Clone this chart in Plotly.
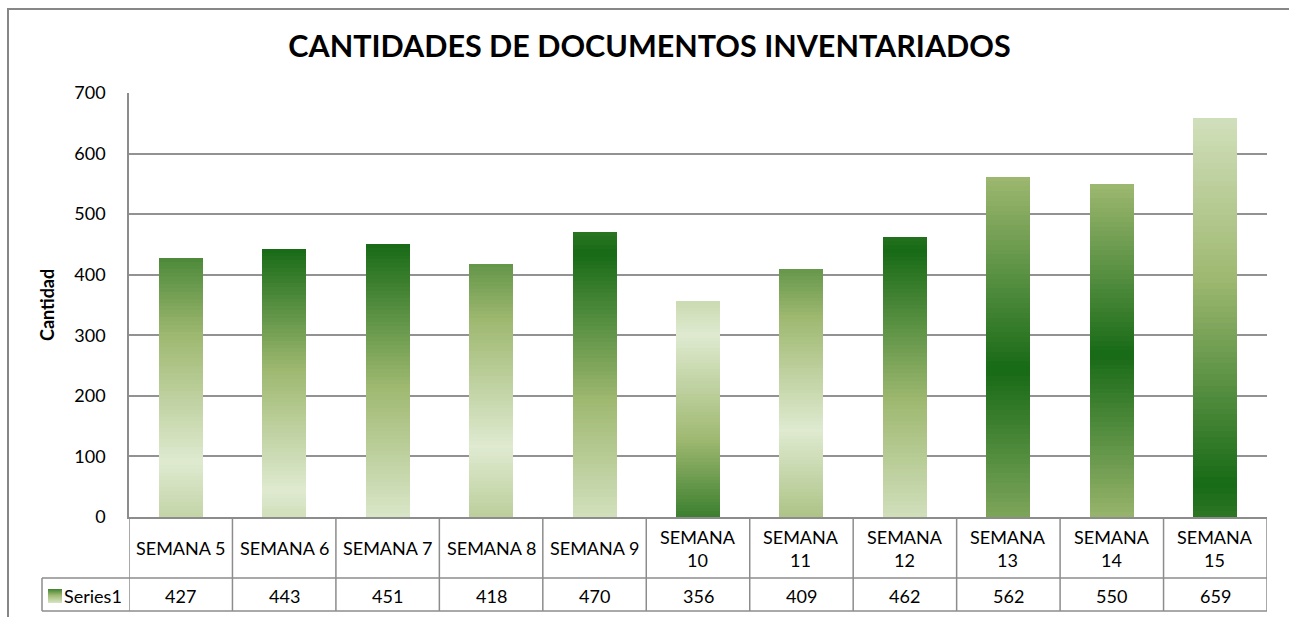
import plotly.graph_objects as go

# ---------------- data ----------------
categories = ["SEMANA 5", "SEMANA 6", "SEMANA 7", "SEMANA 8", "SEMANA 9", "SEMANA 10",
              "SEMANA 11", "SEMANA 12", "SEMANA 13", "SEMANA 14", "SEMANA 15"]
values = [427, 443, 451, 418, 470, 356, 409, 462, 562, 550, 659]
series_name = "Series1"
title_text = "CANTIDADES DE DOCUMENTOS INVENTARIADOS"
y_title = "Cantidad"
y_ticks = [0, 100, 200, 300, 400, 500, 600, 700]

# ---------------- style ----------------
FONT = "Lato"
TXT = 18
DARK = (23, 106, 22)
MID = (158, 184, 112)
LIGHT = (223, 234, 208)
# gradient phase (bottom, top) for each bar: 0=dark, 1=mid, 2=light (triangular wave)
GRAD_PHASES = [(2.43, 0.4), (2.22, 0.0), (1.92, 0.0), (2.55, 0.56), (1.8, -0.14),
               (0.27, 2.32), (2.77, 0.58), (1.78, -0.09), (-0.76, 1.0), (-0.95, 1.0),
               (-0.16, 1.79)]
NSEG = 70
LINE = "#8c8c8c"

W, H = 1289, 617
PL, PR, PT, PB = 129, 1267, 93, 517


def px_x(px):
    return (px - PL) / (PR - PL)


def px_y(py):
    return (PB - py) / (PB - PT)


def lerp(a, b, t):
    return tuple(a[i] + (b[i] - a[i]) * t for i in range(3))


def phase_color(ph):
    p = ph % 4.0
    if p > 2:
        p = 4 - p
    c = lerp(DARK, MID, p) if p <= 1 else lerp(MID, LIGHT, p - 1)
    return "rgb(%d,%d,%d)" % tuple(round(v) for v in c)


fig = go.Figure()

# gradient bars built from stacked slices of each value
for k in range(NSEG):
    f = (k + 0.5) / NSEG
    cols = [phase_color(b + (t - b) * f) for (b, t) in GRAD_PHASES]
    fig.add_trace(go.Bar(
        x=categories, y=[v / NSEG for v in values],
        marker=dict(color=cols, line=dict(width=0)),
        hoverinfo="skip", showlegend=False, name=series_name,
    ))

shapes = []
annotations = []

# outer chart border
shapes.append(dict(type="rect", xref="paper", yref="paper",
                   x0=px_x(8), x1=px_x(1300), y0=px_y(640), y1=px_y(9),
                   line=dict(color="#878787", width=2), fillcolor="rgba(0,0,0,0)", layer="below"))

# data table lines
ROW1, ROW2 = 578, 611
for i in range(len(categories) + 1):
    shapes.append(dict(type="line", xref="x", yref="paper", x0=i - 0.5, x1=i - 0.5,
                       y0=px_y(ROW2), y1=px_y(PB), line=dict(color=LINE, width=1.5)))
shapes.append(dict(type="line", xref="paper", yref="paper", x0=px_x(42), x1=1,
                   y0=px_y(ROW1), y1=px_y(ROW1), line=dict(color=LINE, width=1.5)))
shapes.append(dict(type="line", xref="paper", yref="paper", x0=px_x(42), x1=1,
                   y0=px_y(ROW2), y1=px_y(ROW2), line=dict(color=LINE, width=1.5)))
shapes.append(dict(type="line", xref="paper", yref="paper", x0=px_x(42), x1=px_x(42),
                   y0=px_y(ROW2), y1=px_y(ROW1), line=dict(color=LINE, width=1.5)))

# legend key (small gradient square)
KEY_N = 14
for j in range(KEY_N):
    c = phase_color(0.3 + 1.6 * (j + 0.5) / KEY_N)
    y0 = 589 + j
    shapes.append(dict(type="rect", xref="paper", yref="paper",
                       x0=px_x(48), x1=px_x(62), y0=px_y(y0 + 1), y1=px_y(y0),
                       line=dict(width=0), fillcolor=c))

# header row texts and value row texts
for cat, v in zip(categories, values):
    label = cat if len(cat) <= 8 else cat.replace(" ", "<br>", 1)
    annotations.append(dict(x=cat, xref="x", y=px_y(548), yref="paper", text=label,
                            showarrow=False, xanchor="center", yanchor="middle",
                            font=dict(family=FONT, size=TXT, color="black")))
    annotations.append(dict(x=cat, xref="x", y=px_y(596), yref="paper", text=str(v),
                            showarrow=False, xanchor="center", yanchor="middle",
                            font=dict(family=FONT, size=TXT, color="black")))

annotations.append(dict(x=px_x(62), xref="paper", y=px_y(596), yref="paper", text=series_name,
                        showarrow=False, xanchor="left", yanchor="middle",
                        font=dict(family=FONT, size=TXT, color="black")))

# y axis title
annotations.append(dict(x=px_x(47), xref="paper", y=px_y(305), yref="paper",
                        text="<b>%s</b>" % y_title, textangle=-90, showarrow=False,
                        xanchor="center", yanchor="middle",
                        font=dict(family=FONT, size=18, color="black")))

fig.update_layout(
    width=W, height=H,
    margin=dict(l=PL, r=W - PR, t=PT, b=H - PB),
    paper_bgcolor="white", plot_bgcolor="white",
    barmode="stack", bargap=0.575,
    showlegend=False,
    title=dict(text="<b>%s</b>" % title_text, x=649.5 / W, y=1 - 46 / H,
               xanchor="center", yanchor="middle", xref="container", yref="container",
               font=dict(family=FONT, size=30.5, color="black")),
    xaxis=dict(range=[-0.5, len(categories) - 0.5], showticklabels=False, ticks="",
               showgrid=False, zeroline=False, showline=True, linecolor=LINE, linewidth=2,
               fixedrange=True),
    yaxis=dict(range=[0, 700], tickvals=y_ticks, ticktext=[str(t) for t in y_ticks],
               showgrid=True, gridcolor="#929292", gridwidth=1.5, zeroline=False,
               showline=True, linecolor=LINE, linewidth=1.5, ticks="",
               ticklabelstandoff=18,
               tickfont=dict(family=FONT, size=TXT, color="black"), fixedrange=True),
    shapes=shapes, annotations=annotations,
)

fig.write_html("out.html", config={"displayModeBar": False},
               post_script="document.body.style.margin='0';document.body.style.overflow='hidden';")
